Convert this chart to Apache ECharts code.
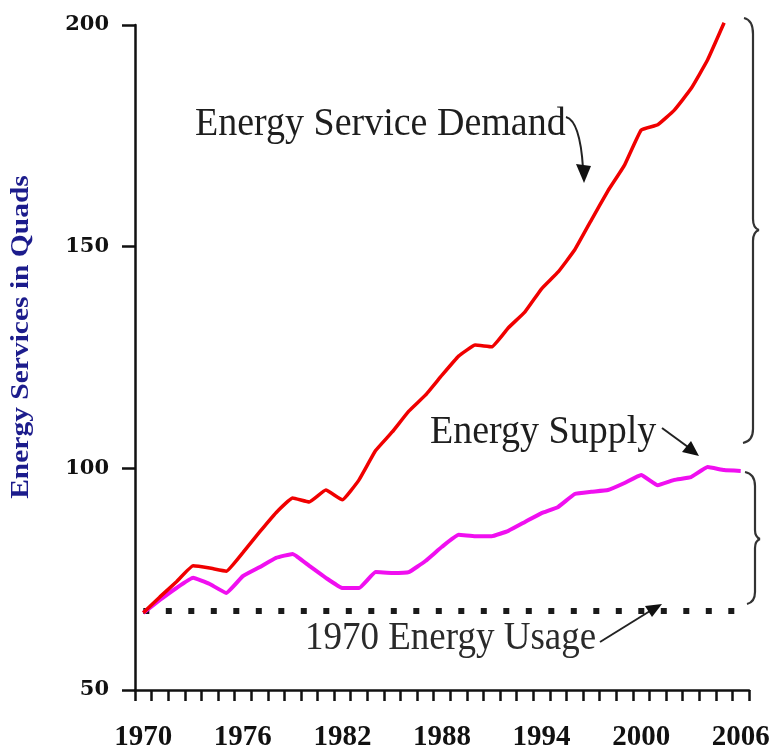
<!DOCTYPE html>
<html>
<head>
<meta charset="utf-8">
<script src="https://cdn.jsdelivr.net/npm/echarts@6/dist/echarts.min.js"></script>
<style>
html,body{margin:0;padding:0;background:#fff;}
#chart{width:774px;height:752px;}
</style>
</head>
<body>
<div id="chart"></div>
<script>
const years = ['1970','1971','1972','1973','1974','1975','1976','1977','1978','1979',
  '1980','1981','1982','1983','1984','1985','1986','1987','1988','1989',
  '1990','1991','1992','1993','1994','1995','1996','1997','1998','1999',
  '2000','2001','2002','2003','2004','2005','2006'];
const serviceDemand = [67.4, 71, 74.4, 78, 77.5, 76.8, 81, 85.6, 90, 93.3,
  92.4, 95.1, 92.9, 97.4, 104, 108.2, 112.9, 116.5, 121, 125.3,
  127.8, 127.4, 131.7, 135.3, 140.5, 144.3, 149.3, 156, 162.6, 168.4,
  176.3, 177.5, 180.8, 185.6, 192.1, 200.5];
const energySupply = [67.4, 70.3, 73, 75.3, 73.9, 71.9, 75.7, 77.7, 79.8, 80.7,
  78, 75.3, 73, 73, 76.6, 76.4, 76.6, 79.1, 82.3, 85,
  84.7, 84.7, 85.9, 87.9, 89.9, 91.3, 94.2, 94.7, 95.1, 96.7,
  98.5, 96.2, 97.4, 98, 100.3, 99.6, 99.4];
const usage1970 = [['1970', 67.8], ['2006', 67.8]];
const yTicks = [50, 100, 150, 200];

const chart = echarts.init(document.getElementById('chart'));
const serif = "'Liberation Serif', 'Times New Roman', serif";
const annColor = '#1e1e1e';

const option = {
  backgroundColor: '#fff',
  animation: false,
  grid: { left: 135, right: 25, top: 25, bottom: 62, containLabel: false },
  xAxis: {
    type: 'category',
    data: years,
    boundaryGap: true,
    axisLine: { show: true, lineStyle: { color: '#111', width: 2.5 } },
    axisTick: { show: true, interval: 0, length: 11, inside: false, lineStyle: { color: '#111', width: 2.5 } },
    axisLabel: { interval: 5, margin: 33, fontFamily: serif, fontWeight: 'bold', fontSize: 29, color: '#111' },
    splitLine: { show: false }
  },
  yAxis: {
    type: 'value',
    min: yTicks[0],
    max: yTicks[yTicks.length - 1],
    interval: 50,
    axisLine: { show: true, lineStyle: { color: '#111', width: 2.5 } },
    axisTick: { show: true, length: 13, lineStyle: { color: '#111', width: 2.5 } },
    axisLabel: { margin: 26, fontFamily: "'DejaVu Serif', serif", fontWeight: 'bold', fontSize: 21, color: '#111' },
    splitLine: { show: false }
  },
  series: [
    {
      name: '1970 Energy Usage',
      type: 'line',
      data: usage1970,
      symbol: 'none',
      lineStyle: { color: '#1a1a1a', width: 6, type: [6, 16.5], cap: 'butt' },
      z: 1
    },
    {
      name: 'Energy Supply',
      type: 'line',
      data: energySupply,
      symbol: 'none',
      smooth: 0.1,
      lineStyle: { color: '#f00ff0', width: 4 },
      z: 2
    },
    {
      name: 'Energy Service Demand',
      type: 'line',
      data: serviceDemand,
      symbol: 'none',
      smooth: 0.1,
      clip: false,
      lineStyle: { color: '#f00000', width: 3.5 },
      z: 3
    }
  ],
  graphic: [
    { type: 'text', x: 22, y: 337, rotation: Math.PI / 2, scaleX: 1.18, scaleY: 1,
      style: { text: 'Energy Services in Quads', font: 'bold 25px ' + serif, fill: '#1c1c8c', textAlign: 'center', textVerticalAlign: 'middle' } },
    { type: 'text', left: 195, top: 104, scaleY: 1.08, style: { text: 'Energy Service Demand', font: '38px ' + serif, fill: annColor } },
    { type: 'text', left: 430, top: 412, scaleY: 1.08, style: { text: 'Energy Supply', font: '38px ' + serif, fill: annColor } },
    { type: 'text', left: 305, top: 619, scaleY: 1.08, style: { text: '1970 Energy Usage', font: '37px ' + serif, fill: '#2a2a2a' } },
    // arrows
    { type: 'bezierCurve', shape: { x1: 566, y1: 117, cpx1: 580, cpy1: 121, x2: 583, y2: 168 }, style: { stroke: '#222', lineWidth: 2, fill: null } },
    { type: 'polygon', shape: { points: [[584, 183], [576, 164], [591, 166]] }, style: { fill: '#111' } },
    { type: 'line', shape: { x1: 662, y1: 428, x2: 688, y2: 447 }, style: { stroke: '#222', lineWidth: 2 } },
    { type: 'polygon', shape: { points: [[699, 456], [682, 452], [691, 441]] }, style: { fill: '#111' } },
    { type: 'line', shape: { x1: 600, y1: 642, x2: 650, y2: 611 }, style: { stroke: '#222', lineWidth: 2 } },
    { type: 'polygon', shape: { points: [[662, 604], [652, 617], [645, 606]] }, style: { fill: '#111' } },
    // upper brace
    { type: 'bezierCurve', shape: { x1: 744, y1: 18, cpx1: 753, cpy1: 20, x2: 753, y2: 34 }, style: { stroke: '#333', lineWidth: 2.2, fill: null } },
    { type: 'line', shape: { x1: 753, y1: 34, x2: 753, y2: 219 }, style: { stroke: '#333', lineWidth: 2.2 } },
    { type: 'bezierCurve', shape: { x1: 753, y1: 219, cpx1: 753, cpy1: 228, x2: 759, y2: 230 }, style: { stroke: '#333', lineWidth: 2.2, fill: null } },
    { type: 'bezierCurve', shape: { x1: 759, y1: 230, cpx1: 753, cpy1: 232, x2: 753, y2: 241 }, style: { stroke: '#333', lineWidth: 2.2, fill: null } },
    { type: 'line', shape: { x1: 753, y1: 241, x2: 753, y2: 429 }, style: { stroke: '#333', lineWidth: 2.2 } },
    { type: 'bezierCurve', shape: { x1: 753, y1: 429, cpx1: 753, cpy1: 441, x2: 743, y2: 443 }, style: { stroke: '#333', lineWidth: 2.2, fill: null } },
    // lower brace
    { type: 'bezierCurve', shape: { x1: 745, y1: 472, cpx1: 755, cpy1: 474, x2: 755, y2: 486 }, style: { stroke: '#333', lineWidth: 2.2, fill: null } },
    { type: 'line', shape: { x1: 755, y1: 486, x2: 755, y2: 530 }, style: { stroke: '#333', lineWidth: 2.2 } },
    { type: 'bezierCurve', shape: { x1: 755, y1: 530, cpx1: 755, cpy1: 537, x2: 760, y2: 539 }, style: { stroke: '#333', lineWidth: 2.2, fill: null } },
    { type: 'bezierCurve', shape: { x1: 760, y1: 539, cpx1: 755, cpy1: 541, x2: 755, y2: 548 }, style: { stroke: '#333', lineWidth: 2.2, fill: null } },
    { type: 'line', shape: { x1: 755, y1: 548, x2: 755, y2: 592 }, style: { stroke: '#333', lineWidth: 2.2 } },
    { type: 'bezierCurve', shape: { x1: 755, y1: 592, cpx1: 755, cpy1: 602, x2: 747, y2: 604 }, style: { stroke: '#333', lineWidth: 2.2, fill: null } }
  ]
};
chart.setOption(option);
</script>
</body>
</html>
